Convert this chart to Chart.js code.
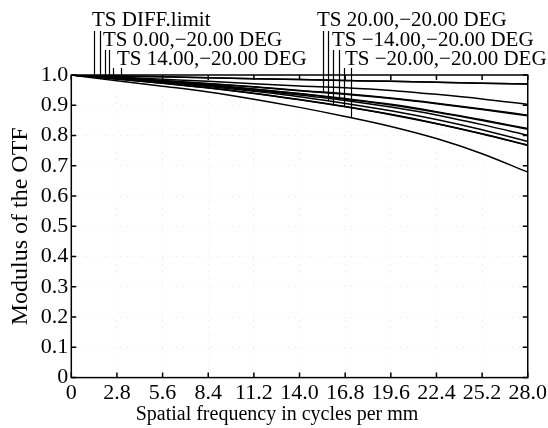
<!DOCTYPE html>
<html>
<head>
<meta charset="utf-8">
<script src="https://cdn.jsdelivr.net/npm/chart.js@4.4.0/dist/chart.umd.min.js"></script>
<style>
  html, body { margin: 0; padding: 0; background: #fff; overflow: hidden; }
  #wrap { width: 548px; height: 428px; overflow: hidden; }
</style>
</head>
<body>
<div id="wrap"><canvas id="mtf" width="549" height="428"></canvas></div>
<script>
// spatial frequency samples (cycles/mm)
const freq = [0, 2.8, 5.6, 8.4, 11.2, 14.0, 16.8, 19.6, 22.4, 25.2, 28.0];
const xTicks = [0, 2.8, 5.6, 8.4, 11.2, 14.0, 16.8, 19.6, 22.4, 25.2, 28.0];
const yTicks = [0, 0.1, 0.2, 0.3, 0.4, 0.5, 0.6, 0.7, 0.8, 0.9, 1.0];

// MTF values
const diffT  = [1, 0.997, 0.994, 0.991, 0.988, 0.985, 0.982, 0.979, 0.976, 0.973, 0.970];
const diffS  = [1, 0.997, 0.994, 0.991, 0.988, 0.985, 0.982, 0.979, 0.976, 0.973, 0.970];
const f0T    = [1, 0.993, 0.986, 0.979, 0.971, 0.964, 0.958, 0.949, 0.936, 0.921, 0.903];
const f0S    = [1, 0.991, 0.982, 0.972, 0.961, 0.949, 0.938, 0.924, 0.907, 0.888, 0.867];
const f14T   = [1, 0.990, 0.980, 0.968, 0.954, 0.939, 0.922, 0.903, 0.879, 0.852, 0.823];
const f14S   = [1, 0.989, 0.978, 0.965, 0.950, 0.934, 0.916, 0.894, 0.868, 0.836, 0.801];
const f20T   = [1, 0.991, 0.981, 0.971, 0.960, 0.948, 0.936, 0.922, 0.905, 0.886, 0.865];
const f20S   = [1, 0.988, 0.976, 0.962, 0.946, 0.928, 0.906, 0.882, 0.853, 0.819, 0.780];
const fm14T  = [1, 0.987, 0.973, 0.957, 0.939, 0.918, 0.895, 0.869, 0.839, 0.805, 0.767];
const fm14S  = [1, 0.990, 0.979, 0.967, 0.953, 0.938, 0.920, 0.901, 0.877, 0.850, 0.821];
const fm20T  = [1, 0.987, 0.973, 0.958, 0.940, 0.919, 0.896, 0.870, 0.840, 0.806, 0.769];
const fm20S  = [1, 0.981, 0.963, 0.944, 0.920, 0.893, 0.863, 0.830, 0.790, 0.740, 0.679];

// legend labels and the frequencies where their leader lines touch the curves
const labels = ['TS DIFF.limit', 'TS 0.00,\u221220.00 DEG', 'TS 14.00,\u221220.00 DEG',
                'TS 20.00,\u221220.00 DEG', 'TS \u221214.00,\u221220.00 DEG', 'TS \u221220.00,\u221220.00 DEG'];
const leaderFreq = [[1.41, 1.78], [2.08, 2.33], [2.55, 3.06],
                    [15.45, 15.76], [16.06, 16.42], [16.73, 17.16]];

const series = [[diffT, diffS], [f0T, f0S], [f14T, f14S], [f20T, f20S], [fm14T, fm14S], [fm20T, fm20S]];

const FONT = '"Liberation Serif", "Times New Roman", serif';

const datasets = [];
series.forEach(pair => {
  pair.forEach(vals => {
    datasets.push({
      data: freq.map((f, i) => ({x: f, y: vals[i]})),
      borderColor: '#000',
      borderWidth: 1.5,
      pointRadius: 0,
      showLine: true,
      cubicInterpolationMode: 'monotone',
      fill: false
    });
  });
});

function valueAt(vals, f) {
  for (let i = 1; i < freq.length; i++) {
    if (f <= freq[i]) {
      const t = (f - freq[i - 1]) / (freq[i] - freq[i - 1]);
      return vals[i - 1] + t * (vals[i] - vals[i - 1]);
    }
  }
  return vals[vals.length - 1];
}

// frame, inward ticks, legend with leader lines, x title
const decor = {
  id: 'decor',
  afterDatasetsDraw(chart) {
    const {ctx, chartArea: a, scales: {x, y}} = chart;
    ctx.save();
    ctx.strokeStyle = '#000';
    ctx.lineWidth = 1.5;
    ctx.strokeRect(a.left, a.top, a.right - a.left, a.bottom - a.top);
    const len = 5;
    ctx.beginPath();
    xTicks.forEach(v => {
      const px = x.getPixelForValue(v);
      ctx.moveTo(px, a.bottom); ctx.lineTo(px, a.bottom - len);
      ctx.moveTo(px, a.top); ctx.lineTo(px, a.top + len);
    });
    yTicks.forEach(v => {
      const py = y.getPixelForValue(v);
      ctx.moveTo(a.left, py); ctx.lineTo(a.left + len, py);
      ctx.moveTo(a.right, py); ctx.lineTo(a.right - len, py);
    });
    ctx.stroke();

    // legend
    ctx.font = '21px ' + FONT;
    ctx.fillStyle = '#000';
    ctx.textBaseline = 'middle';
    const rowY = [20, 40, 59];
    const textX = [92, 103, 117, 317, 332, 345];
    const tops = [31, 50, 68];
    ctx.lineWidth = 1.2;
    labels.forEach((txt, k) => {
      const row = k % 3;
      const fs = leaderFreq[k];
      ctx.fillText(txt, textX[k], rowY[row]);
      ctx.beginPath();
      fs.forEach((f, j) => {
        const px = Math.round(x.getPixelForValue(f)) + 0.5;
        const py = y.getPixelForValue(valueAt(series[k][j], f));
        ctx.moveTo(px, tops[row]);
        ctx.lineTo(px, py);
      });
      ctx.stroke();
    });

    // x axis title
    ctx.font = '20px ' + FONT;
    ctx.textAlign = 'center';
    ctx.fillText('Spatial frequency in cycles per mm', 277, 415);
    ctx.restore();
  }
};

new Chart(document.getElementById('mtf'), {
  type: 'scatter',
  data: { datasets: datasets },
  options: {
    responsive: false,
    animation: false,
    layout: { padding: { top: 75, left: 6, right: 4, bottom: 20 } },
    plugins: { legend: { display: false }, tooltip: { enabled: false } },
    scales: {
      x: {
        type: 'linear', min: 0, max: 28,
        afterBuildTicks: s => { s.ticks = xTicks.map(v => ({value: v})); },
        ticks: {
          color: '#000', padding: 2, maxRotation: 0, autoSkip: false,
          font: { family: FONT, size: 22 },
          callback: v => v === 0 ? '0' : v.toFixed(1)
        },
        grid: { drawTicks: false, color: 'rgba(0,0,0,0.09)' },
        border: { display: false, dash: [1, 6] }
      },
      y: {
        type: 'linear', min: 0, max: 1,
        afterBuildTicks: s => { s.ticks = yTicks.map(v => ({value: v})); },
        ticks: {
          color: '#000', padding: 3,
          font: { family: FONT, size: 22 },
          callback: v => v === 0 ? '0' : v.toFixed(1)
        },
        grid: { drawTicks: false, color: 'rgba(0,0,0,0.09)' },
        border: { display: false, dash: [1, 6] },
        title: {
          display: true, text: 'Modulus of the OTF', color: '#000',
          font: { family: FONT, size: 24 }, padding: { top: 0, bottom: 3 }
        }
      }
    }
  },
  plugins: [decor]
});
</script>
</body>
</html>
